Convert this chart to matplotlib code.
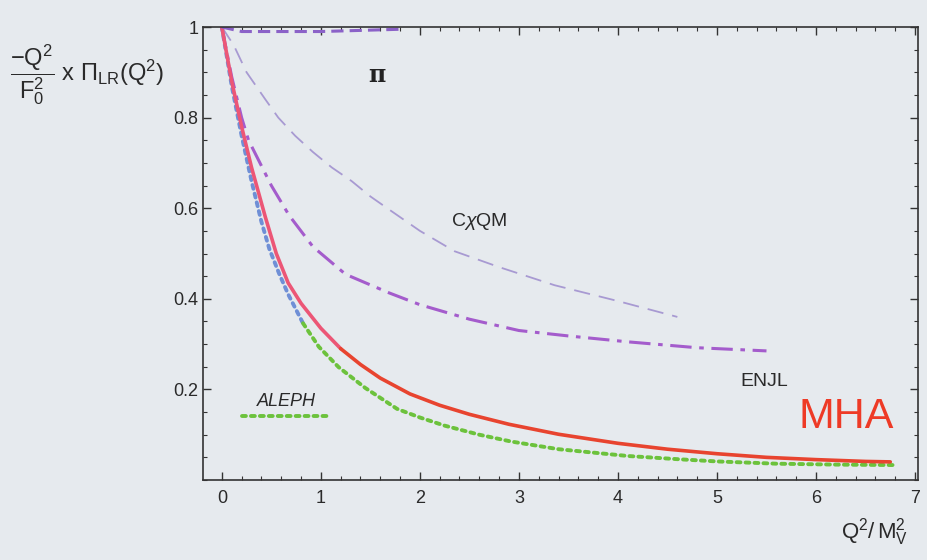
import numpy as np
import matplotlib
matplotlib.use('Agg')
import matplotlib.pyplot as plt
from matplotlib.ticker import MultipleLocator

plt.rcParams['font.family'] = ['Liberation Sans', 'DejaVu Sans']
plt.rcParams['mathtext.fontset'] = 'custom'
plt.rcParams['mathtext.rm'] = 'Liberation Sans'
plt.rcParams['mathtext.it'] = 'Liberation Sans:italic'

# MHA (solid, pink at the top, red further down)
q_mha_top = [0, 0.1, 0.2, 0.3, 0.44, 0.55, 0.67, 0.8, 1.0, 1.2]
v_mha_top = [1.0, 0.88, 0.78, 0.69, 0.58, 0.50, 0.435, 0.39, 0.335, 0.29]
q_mha_low = [1.2, 1.4, 1.6, 1.9, 2.2, 2.5, 2.9, 3.4, 4.0, 4.5, 5.0, 5.5, 6.0, 6.5, 6.75]
v_mha_low = [0.29, 0.255, 0.225, 0.19, 0.165, 0.145, 0.123, 0.101, 0.081, 0.068, 0.058,
             0.050, 0.045, 0.041, 0.040]

# ALEPH (dotted, blue at first then green)
q_aleph_b = [0, 0.1, 0.2, 0.3, 0.4, 0.48, 0.58, 0.67, 0.82]
v_aleph_b = [1.0, 0.87, 0.76, 0.66, 0.57, 0.51, 0.455, 0.41, 0.346]
q_aleph_g = [0.82, 0.98, 1.18, 1.45, 1.77, 2.0, 2.25, 2.6, 2.92, 3.4, 4.1, 4.6, 5.0,
             5.6, 6.2, 6.78]
v_aleph_g = [0.346, 0.294, 0.249, 0.203, 0.157, 0.138, 0.12, 0.10, 0.085, 0.068, 0.053,
             0.046, 0.041, 0.036, 0.034, 0.033]
q_aleph_leg = [0.2, 1.08]
v_aleph_leg = [0.142, 0.142]

# ENJL (dash-dot purple)
q_enjl = [0, 0.1, 0.2, 0.27, 0.5, 0.68, 0.92, 1.25, 1.69, 2.0, 2.5, 3.0, 3.5, 4.1, 4.8, 5.5]
v_enjl = [1.0, 0.89, 0.80, 0.75, 0.65, 0.584, 0.515, 0.454, 0.413, 0.387, 0.355, 0.33,
          0.318, 0.305, 0.292, 0.285]

# CxQM (thin dashed light purple)
q_cqm = [0, 0.12, 0.25, 0.44, 0.57, 0.74, 0.92, 1.11, 1.31, 1.5, 1.67, 2.0, 2.35, 2.8,
         3.36, 4.0, 4.6]
v_cqm = [1.0, 0.96, 0.90, 0.84, 0.80, 0.76, 0.724, 0.69, 0.66, 0.626, 0.60, 0.55, 0.505,
         0.47, 0.43, 0.395, 0.36]

# pi (dashed purple at the top)
q_pi = [0, 0.2, 1.0, 1.8]
v_pi = [1.0, 0.99, 0.99, 0.995]

bg = '#e6eaee'
fig = plt.figure(figsize=(9.28, 5.6), dpi=100, facecolor=bg)
ax = fig.add_axes([203/928, 1-480/560, 715/928, 453/560], facecolor=bg)

dot = (0, (1, 1.3))
ax.plot(q_aleph_b, v_aleph_b, color='#6f8fd6', lw=2.8, ls=dot, dash_capstyle='round')
ax.plot(q_aleph_g, v_aleph_g, color='#6cc23c', lw=2.8, ls=dot, dash_capstyle='round')
ax.plot(q_aleph_leg, v_aleph_leg, color='#6cc23c', lw=2.8, ls=dot, dash_capstyle='round')
ax.plot(q_cqm, v_cqm, color='#a89ad2', lw=1.3, ls=(0, (9, 5)))
ax.plot(q_enjl, v_enjl, color='#a45ccc', lw=2.2, ls=(0, (7, 2.5, 1.5, 2.5)))
ax.plot(q_mha_top, v_mha_top, color='#ec5676', lw=2.6, solid_capstyle='round')
ax.plot(q_mha_low, v_mha_low, color='#e8442f', lw=2.6, solid_capstyle='round')
ax.plot(q_pi, v_pi, color='#8b62c8', lw=2.2, ls=(0, (4, 2)))

ax.set_xlim(-0.19, 7.03)
ax.set_ylim(0, 1)
ax.set_xticks([0, 1, 2, 3, 4, 5, 6, 7])
ax.set_yticks([0.2, 0.4, 0.6, 0.8, 1.0])
ax.set_yticklabels(['0.2', '0.4', '0.6', '0.8', '1'])
ax.xaxis.set_minor_locator(MultipleLocator(0.2))
ax.yaxis.set_minor_locator(MultipleLocator(0.05))
ax.tick_params(which='both', direction='in', top=True, right=True, colors='#333333',
               labelsize=13, labelcolor='#2a2a2a')
ax.tick_params(which='major', length=6, width=1)
ax.tick_params(which='minor', length=3, width=0.8)
ax.tick_params(axis='x', pad=7)
for s in ax.spines.values():
    s.set_color('#333333')
    s.set_linewidth(1.2)

ax.text(1.57, 0.893, 'π', fontsize=17, ha='center', va='center', color='#222222',
        family='DejaVu Serif', weight='bold')
ax.text(2.6, 0.57, r'C$\chi$QM', fontsize=14, ha='center', va='center', color='#2a2a2a')
ax.text(5.48, 0.218, 'ENJL', fontsize=14, ha='center', va='center', color='#2a2a2a')
ax.text(0.65, 0.173, 'ALEPH', fontsize=13, ha='center', va='center', color='#2a2a2a',
        style='italic')
ax.text(6.3, 0.14, 'MHA', fontsize=31, ha='center', va='center', color='#ee3a26')

fig.text(10/928, 1-75/560,
         r'$\dfrac{\mathrm{-Q}^2}{\mathrm{F}_0^2}\ \mathrm{x}\ \Pi_{\mathrm{LR}}(\mathrm{Q}^2)$',
         fontsize=17, ha='left', va='center', color='#2a2a2a')
fig.text(875/928, 1-532/560, r'$\mathrm{Q}^2/\,\mathrm{M}_\mathrm{V}^2$',
         fontsize=16, ha='center', va='center', color='#2a2a2a')

fig.savefig('out.png', dpi=100, facecolor=bg)
